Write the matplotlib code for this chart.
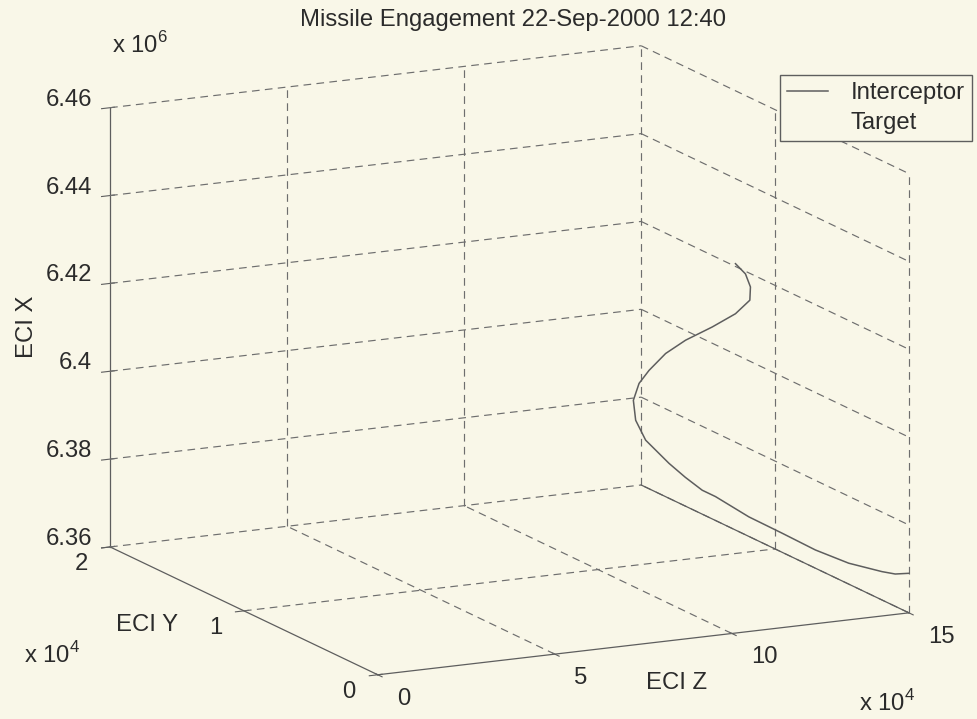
# Missile engagement: interceptor track drawn in a MATLAB-style 3D box.

import matplotlib
matplotlib.use("Agg")

import matplotlib.pyplot as plt
import numpy as np
from matplotlib.lines import Line2D
from mpl_toolkits.mplot3d import proj3d

# interceptor track in metres (ECI Y taken as 0)
eciZ = [101020, 103840, 105250, 105080, 101020, 94450, 86930, 81290, 76610,
        73790, 72180, 72830, 75650, 82250, 86840, 91630, 95380, 104800,
        114190, 123580, 133000, 142390, 146140, 150000]
eciY = [0, 0, 0, 0, 0, 0, 0, 0, 0, 0, 0, 0, 0, 0, 0, 0, 0, 0, 0, 0, 0, 0, 0, 0]
eciX = [6444100, 6441500, 6438400, 6435400, 6432700, 6430300, 6428000,
        6425500, 6422100, 6419400, 6415700, 6411100, 6406300, 6400400,
        6396800, 6393400, 6391600, 6386100, 6381500, 6376800, 6372900,
        6370100, 6369200, 6369000]

zTicks = [0, 5, 10, 15]            # x 10^4
yTicks = [0, 1, 2]                 # x 10^4
xTicks = [6.36, 6.38, 6.40, 6.42, 6.44, 6.46]   # x 10^6
xTickLabels = ["6.36", "6.38", "6.4", "6.42", "6.44", "6.46"]
seriesNames = ["Interceptor", "Target"]
title = "Missile Engagement 22-Sep-2000 12:40"

bg = "#f9f7e8"
inkColor = "#2b2b2b"
lineColor = "#5e5e5e"
gridColor = "#6e6e6e"
fontSize = 17.2

W, H = 978, 719

plt.rcParams["font.family"] = ["Liberation Sans", "DejaVu Sans"]
plt.rcParams["mathtext.fontset"] = "custom"
plt.rcParams["mathtext.rm"] = "Liberation Sans"
plt.rcParams["lines.dashed_pattern"] = [6.5, 4.5]
plt.rcParams["axes.edgecolor"] = lineColor
plt.rcParams["axes.linewidth"] = 0.9


def figPos(px, py):
    # picture pixels (top-left origin) -> figure fraction
    return px / W, 1 - py / H


fig = plt.figure(figsize=(W / 100, H / 100), dpi=100, facecolor=bg)
ax = fig.add_axes([0.05, 0.05, 0.9, 0.9], projection="3d", proj_type="ortho")
ax.set_facecolor(bg)
ax.computed_zorder = False
ax.view_init(elev=13.65, azim=-116.3)
ax.set_box_aspect((1, 1.02, 0.763))
ax.grid(False)

zLo, zHi = zTicks[0], zTicks[-1]
yLo, yHi = yTicks[0], yTicks[-1]
xLo, xHi = xTicks[0], xTicks[-1]

# grid drawn by hand so shared box edges are not doubled
gridStyle = dict(color=gridColor, linewidth=0.85, linestyle="--", zorder=1)
for z in zTicks[1:]:
    ax.plot([z, z], [yLo, yHi], [xLo, xLo], **gridStyle)          # floor
    ax.plot([z, z], [yHi, yHi], [xLo, xHi], **gridStyle)          # back wall
for y in yTicks[1:]:
    ax.plot([zLo, zHi], [y, y], [xLo, xLo], **gridStyle)          # floor
for y in yTicks[:-1]:
    ax.plot([zHi, zHi], [y, y], [xLo, xHi], **gridStyle)          # side wall
for x in xTicks[1:]:
    ax.plot([zLo, zHi], [yHi, yHi], [x, x], **gridStyle)          # back wall
    ax.plot([zHi, zHi], [yHi, yLo], [x, x], **gridStyle)          # side wall
# MATLAB leaves this floor edge solid
ax.plot([zHi, zHi], [yHi, yLo], [xLo, xLo], color=lineColor, linewidth=0.9, zorder=2)

line, = ax.plot(np.array(eciZ) / 1e4, np.array(eciY) / 1e4, np.array(eciX) / 1e6,
                color=lineColor, linewidth=1.1, zorder=3)

ax.set_xlim(zLo, zHi)
ax.set_ylim(yLo, yHi)
ax.set_zlim(xLo, xHi)
ax.set_xticks(zTicks)
ax.set_yticks(yTicks)
ax.set_zticks(xTicks)
ax.set_xticklabels([])
ax.set_yticklabels([])
ax.set_zticklabels([])

for axis in (ax.xaxis, ax.yaxis, ax.zaxis):
    axis.set_pane_color((1, 1, 1, 0))
    axis.line.set_color(lineColor)
for a in ("x", "y", "z"):
    ax.tick_params(axis=a, colors=lineColor)


def toPix(z, y, x):
    px, py, _ = proj3d.proj_transform(z, y, x, ax.M)
    dx, dy = ax.transData.transform((px, py))
    return dx, H - dy


def fitBox(targets, corners):
    # scale/shift the axes so the box corners land where they sit in the picture
    fig.canvas.draw()
    pts = np.array([toPix(*c) for c in corners])
    pts[:, 1] = H - pts[:, 1]
    tgt = np.array([(tx, H - ty) for tx, ty in targets], dtype=float)
    cp, ct = pts.mean(axis=0), tgt.mean(axis=0)
    f = np.sum((pts - cp) * (tgt - ct)) / np.sum((pts - cp) ** 2)
    bb = ax.bbox
    x0 = ct[0] + f * (bb.x0 - cp[0])
    y0 = ct[1] + f * (bb.y0 - cp[1])
    ax.set_position([x0 / W, y0 / H, f * bb.width / W, f * bb.height / H])


boxCorners = [(0, 2, 6.36), (0, 0, 6.36), (15, 0, 6.36), (0, 2, 6.46), (15, 2, 6.46)]
boxTargets = [(109, 547), (375, 675), (907, 613), (112, 107), (645, 46)]
for _ in range(3):
    fitBox(boxTargets, boxCorners)
fig.canvas.draw()

# tick labels placed from the projected tick positions
textStyle = dict(fontsize=fontSize, color=inkColor)
for z in zTicks:
    px, py = toPix(z, yLo, xLo)
    fig.text(*figPos(px + 19, py + 24), str(z), ha="left", va="center", **textStyle)
for y in yTicks:
    px, py = toPix(zLo, y, xLo)
    fig.text(*figPos(px - 22, py + 17), str(y), ha="right", va="center", **textStyle)
for x, lab in zip(xTicks, xTickLabels):
    px, py = toPix(zLo, yHi, x)
    fig.text(*figPos(px - 18, py - 8), lab, ha="right", va="center", **textStyle)

# axis labels and MATLAB style exponent labels
fig.text(*figPos(513, 20), title, ha="center", va="center", **textStyle)
fig.text(*figPos(677, 683), "ECI Z", ha="center", va="center", **textStyle)
fig.text(*figPos(147, 625), "ECI Y", ha="center", va="center", **textStyle)
fig.text(*figPos(27, 327), "ECI X", ha="center", va="center", rotation=90, **textStyle)
fig.text(*figPos(140, 45), r"x 10$^{6}$", ha="center", va="center", **textStyle)
fig.text(*figPos(52, 655), r"x 10$^{4}$", ha="center", va="center", **textStyle)
fig.text(*figPos(887, 703), r"x 10$^{4}$", ha="center", va="center", **textStyle)

targetProxy = Line2D([], [], color="none")
leg = fig.legend([line, targetProxy], seriesNames, loc="upper left",
                 bbox_to_anchor=figPos(780, 75), borderaxespad=0, fontsize=fontSize,
                 frameon=True, fancybox=False, framealpha=1, facecolor=bg,
                 edgecolor=lineColor, handlelength=1.7, handletextpad=0.95,
                 borderpad=0.3, labelspacing=0.33)
leg.get_frame().set_linewidth(1.0)
for t in leg.get_texts():
    t.set_color(inkColor)

fig.savefig("out.png", dpi=100, facecolor=bg)
